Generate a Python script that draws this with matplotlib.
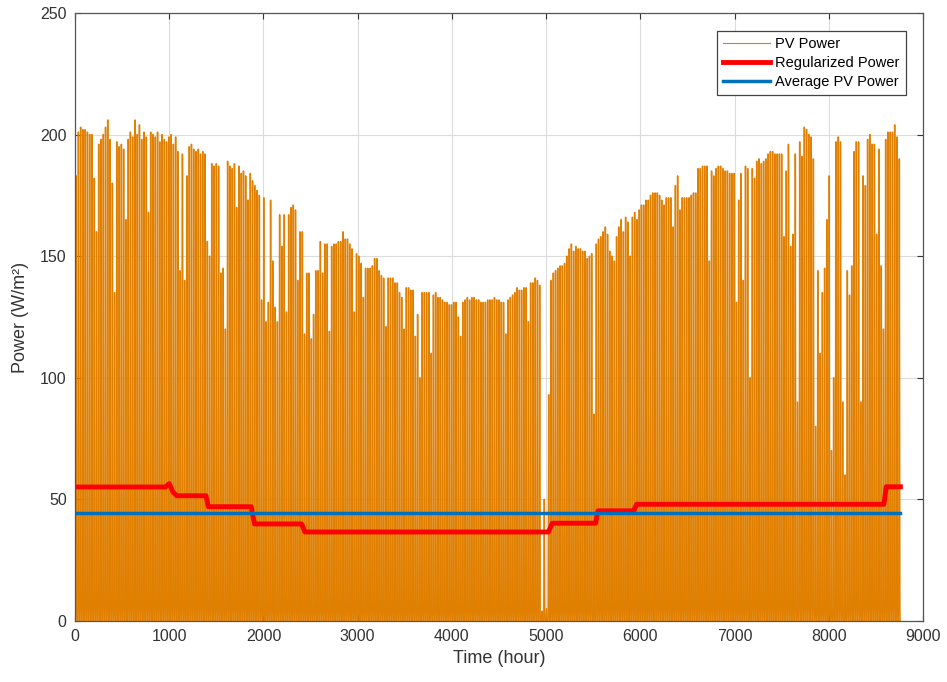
import numpy as np
import matplotlib
matplotlib.use("Agg")
import matplotlib.pyplot as plt

plt.rcParams['font.family'] = ['Liberation Sans', 'DejaVu Sans']

# daily peak PV power (W/m2), one value per day
daily_peak = [
    183, 201, 203, 202, 202, 201, 200, 200, 182, 160,
    196, 198, 200, 203, 206, 198, 180, 135, 197, 195,
    196, 194, 165, 198, 201, 199, 206, 200, 204, 198,
    201, 199, 168, 201, 200, 199, 201, 197, 200, 198,
    197, 199, 200, 196, 199, 193, 144, 192, 140, 183,
    195, 196, 194, 193, 194, 192, 193, 192, 156, 150,
    188, 187, 188, 187, 143, 145, 120, 189, 187, 186,
    188, 170, 187, 184, 185, 183, 173, 184, 181, 179,
    177, 175, 132, 174, 123, 131, 173, 148, 129, 123,
    167, 154, 167, 127, 167, 170, 171, 169, 140, 160,
    160, 118, 143, 143, 116, 126, 144, 144, 156, 143,
    155, 155, 119, 154, 155, 155, 156, 156, 160, 157,
    157, 155, 153, 127, 151, 150, 147, 133, 145, 145,
    145, 146, 149, 149, 144, 142, 141, 121, 141, 141,
    141, 139, 139, 135, 133, 120, 137, 137, 136, 136,
    117, 126, 100, 135, 135, 135, 135, 110, 134, 135,
    133, 133, 132, 131, 131, 130, 130, 131, 131, 125,
    117, 131, 132, 133, 132, 133, 133, 132, 132, 131,
    131, 131, 132, 132, 132, 133, 132, 132, 131, 131,
    118, 132, 133, 134, 135, 137, 136, 136, 137, 137,
    123, 139, 139, 141, 140, 138, 4, 50, 5, 93,
    140, 143, 144, 145, 146, 146, 147, 150, 153, 155,
    152, 154, 153, 153, 152, 152, 149, 150, 151, 85,
    155, 157, 158, 160, 162, 159, 152, 150, 148, 158,
    162, 165, 160, 166, 164, 150, 166, 168, 165, 169,
    171, 171, 173, 173, 175, 176, 176, 176, 175, 173,
    171, 174, 174, 174, 162, 179, 183, 169, 174, 174,
    174, 174, 175, 176, 176, 186, 186, 187, 187, 187,
    148, 185, 183, 186, 187, 187, 186, 185, 185, 184,
    184, 184, 131, 173, 184, 140, 187, 186, 100, 186,
    182, 189, 190, 188, 189, 190, 192, 193, 193, 192,
    192, 192, 192, 158, 185, 196, 154, 159, 192, 90,
    197, 191, 203, 202, 200, 199, 190, 80, 144, 110,
    135, 145, 165, 183, 70, 100, 197, 199, 197, 90,
    60, 144, 134, 146, 193, 197, 197, 90, 183, 179,
    198, 200, 196, 196, 159, 194, 146, 120, 198, 201,
    201, 201, 204, 199, 190,
]

# typical shape of one day (fraction of the daily peak, hour 0..23)
day_shape = [0, 0, 0, 0, 0, 0, 0.02, 0.14, 0.35, 0.56, 0.75, 0.90,
             1.0, 0.95, 0.80, 0.60, 0.38, 0.15, 0.03, 0, 0, 0, 0, 0]

# regularized power steps
reg_hours = [0, 960, 1000, 1040, 1080, 1390, 1415, 1870, 1905, 2405, 2440,
             5025, 5065, 5525, 5550, 5930, 5960, 8585, 8610, 8760]
reg_values = [55.1, 55.1, 56.5, 53.0, 51.5, 51.5, 47.0, 47.0, 39.9, 39.9, 36.6,
              36.6, 40.2, 40.2, 45.3, 45.3, 48.0, 48.0, 55.2, 55.2]

avg_power = 44.3

pv = (np.array(daily_peak)[:, None] * np.array(day_shape)[None, :]).ravel()
hours = np.arange(len(pv))

fig = plt.figure(figsize=(9.47, 6.82), dpi=100)
ax = fig.add_axes([75 / 947, 61 / 682, 848 / 947, 608 / 682])

# wide pale pass underneath gives the blended look of the dense hourly trace
ax.plot(hours, pv, color='#E07F00', linewidth=1.3, alpha=0.5)
ax.plot(hours, pv, color='#E07F00', linewidth=0.8, label='PV Power')
ax.plot(reg_hours, reg_values, color='#FF0000', linewidth=3.5, label='Regularized Power')
ax.plot([0, hours[-1]], [avg_power, avg_power], color='#0072BD', linewidth=2.5,
        label='Average PV Power')

ax.set_xlim(0, 9000)
ax.set_ylim(0, 250)
ax.set_xticks(np.arange(0, 9001, 1000))
ax.set_yticks(np.arange(0, 251, 50))
ax.grid(True, color='#DCDCDC', linewidth=0.8)
ax.set_axisbelow(True)
ax.tick_params(direction='in', length=4, labelsize=11.5, colors='#333333',
               top=True, right=True, pad=6)
for s in ax.spines.values():
    s.set_color('#555555')
    s.set_linewidth(0.9)

ax.set_xlabel('Time (hour)', fontsize=13, color='#333333')
ax.set_ylabel('Power (W/m²)', fontsize=13, color='#333333', labelpad=8)

leg = ax.legend(loc='upper right', bbox_to_anchor=(0.9796, 0.9704), borderaxespad=0,
                fontsize=10.5, fancybox=False, edgecolor='#444444', framealpha=1,
                handlelength=3.2, borderpad=0.4, labelspacing=0.35, handletextpad=0.4)
leg.get_frame().set_linewidth(0.9)

fig.savefig('out.png', dpi=100)
